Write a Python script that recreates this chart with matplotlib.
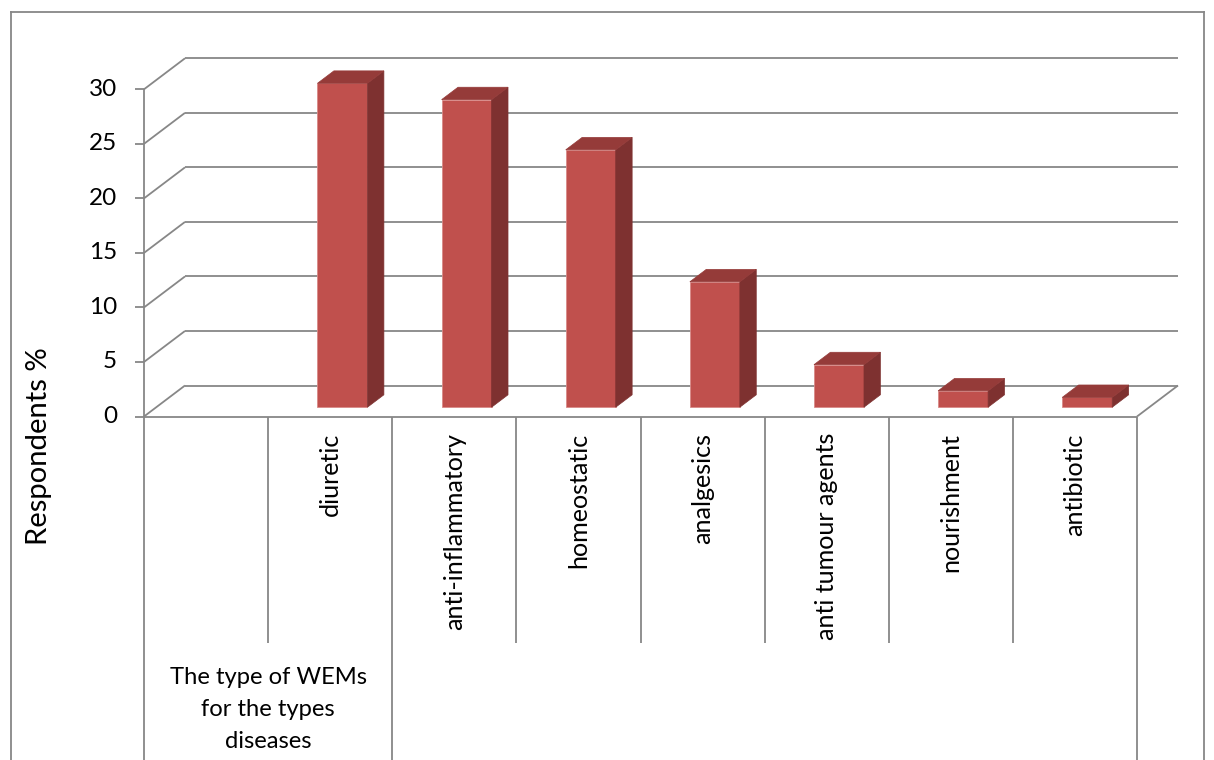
import matplotlib
matplotlib.use('Agg')
import matplotlib.pyplot as plt
from matplotlib.patches import Polygon
from matplotlib.lines import Line2D

# ---------------- data ----------------
categories = ["", "diuretic", "anti-inflammatory", "homeostatic", "analgesics",
              "anti tumour agents", "nourishment", "antibiotic"]
values = [None, 29.7, 28.2, 23.6, 11.5, 3.9, 1.5, 0.9]
y_ticks = [0, 5, 10, 15, 20, 25, 30]
group_label_lines = ["The type of WEMs", "for the types", "diseases"]
group_span = (0, 2)
y_title = "Respondents %"

# ---------------- layout ----------------
plt.rcParams['font.family'] = ['Lato', 'DejaVu Sans']
W, H = 1214, 760
fig = plt.figure(figsize=(W / 100, H / 100), dpi=100)

x0px, x1px = 144, 1137
y0px, ytpx = 416.5, 89.3
n = len(categories)
ymax = y_ticks[-1]
ax = fig.add_axes([x0px / W, 1 - y0px / H, (x1px - x0px) / W, (y0px - ytpx) / H])
ax.set_xlim(0, n)
ax.set_ylim(0, ymax)
ax.axis('off')

px_x = (x1px - x0px) / n
px_y = (y0px - ytpx) / ymax
DX = 41 / px_x
DY = 31 / px_y


def ydata(ypx):
    return (y0px - ypx) / px_y


grid_c = '#878787'
lw = 1.3
kw = dict(color=grid_c, lw=lw, clip_on=False, solid_capstyle='butt', zorder=1)

# back wall gridlines and side wall diagonals
for v in y_ticks:
    ax.plot([DX, n + DX], [v + DY, v + DY], **kw)
    ax.plot([0, DX], [v, v + DY], **kw)
    ax.plot([-9 / px_x, 0], [v, v], **kw)
# value axis
ax.plot([0, 0], [0, ymax], **kw)
# floor front and right edge
ax.plot([0, n], [0, 0], **kw)
ax.plot([n, n + DX], [0, DY], **kw)

# category separators
short_bottom = ydata(643)
long_bottom = ydata(762)
for i in range(n + 1):
    bot = long_bottom if i in (group_span[0], group_span[1], n) else short_bottom
    ax.plot([i, i], [0, bot], **kw)

# bars
front_c = '#C0504D'
side_c = '#7E3130'
top_c = '#953B39'
w = 50 / px_x
f0, f1 = 0.30, 0.70
for i, v in enumerate(values):
    if v is None:
        continue
    xc = i + 0.5
    xl, xr = xc - w / 2, xc + w / 2
    ax.bar([xc + f0 * DX], [v], bottom=f0 * DY, width=w, color=front_c,
           edgecolor='#D98A88', linewidth=0.6, clip_on=False, zorder=3)
    side = [(xr + f0 * DX, f0 * DY), (xr + f1 * DX, f1 * DY),
            (xr + f1 * DX, v + f1 * DY), (xr + f0 * DX, v + f0 * DY)]
    top = [(xl + f0 * DX, v + f0 * DY), (xr + f0 * DX, v + f0 * DY),
           (xr + f1 * DX, v + f1 * DY), (xl + f1 * DX, v + f1 * DY)]
    ax.add_patch(Polygon(side, closed=True, facecolor=side_c, edgecolor=side_c,
                         lw=0.5, clip_on=False, zorder=3))
    ax.add_patch(Polygon(top, closed=True, facecolor=top_c, edgecolor=top_c,
                         lw=0.5, clip_on=False, zorder=3))

# ---------------- texts ----------------
txt_c = '#000000'
for v in y_ticks:
    ax.text(-27 / px_x, v, str(v), ha='right', va='center', fontsize=17.5,
            color=txt_c, clip_on=False)

cat_texts = []
for i, c in enumerate(categories):
    if not c:
        continue
    t = ax.text(i + 0.5, ydata(433), c, rotation=90, ha='center', va='top',
                fontsize=17, color=txt_c, clip_on=False)
    cat_texts.append(t)

grp_texts = []
for k, line in enumerate(group_label_lines):
    t = ax.text((group_span[0] + group_span[1]) / 2, ydata(678 + 32 * k), line,
                ha='center', va='center', fontsize=17, color=txt_c, clip_on=False)
    grp_texts.append(t)

title = fig.text(39 / W, 1 - 446 / H, y_title, rotation=90, ha='center',
                 va='center', fontsize=19, color=txt_c)

# fit font sizes to the reference's measured text extents
fig.canvas.draw()
r = fig.canvas.get_renderer()


def fit(objs, ref, target, dim):
    bb = ref.get_window_extent(r)
    cur = bb.width if dim == 'w' else bb.height
    s = ref.get_fontsize() * target / cur
    for o in objs:
        o.set_fontsize(s)
    return s


fit(cat_texts, cat_texts[1], 197, 'h')
fit([title], title, 198, 'h')
fit(grp_texts, grp_texts[0], 197, 'w')

# chart frame
fl = dict(color=grid_c, lw=1.3, transform=fig.transFigure)
L, T, R = 11 / W, 1 - 12 / H, 1204 / W
fig.add_artist(Line2D([L, R], [T, T], **fl))
fig.add_artist(Line2D([L, L], [T, -0.01], **fl))
fig.add_artist(Line2D([R, R], [T, -0.01], **fl))

fig.savefig('out.png', dpi=100, facecolor='white')
